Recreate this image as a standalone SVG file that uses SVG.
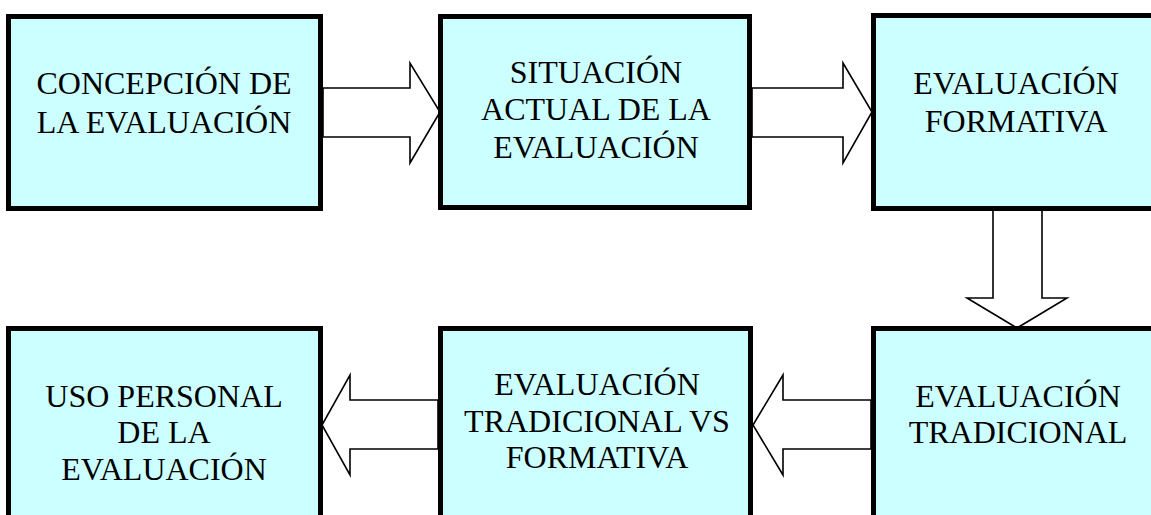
<svg xmlns="http://www.w3.org/2000/svg" width="1151" height="515" viewBox="0 0 1151 515">
<style>
.box{fill:#CCFFFF;stroke:#000;stroke-width:5}
.lbl{font-family:"Liberation Serif","Times New Roman",serif;font-size:32px;fill:#000;text-anchor:middle}
.arr{fill:#fff;stroke:#000;stroke-width:1.6;stroke-linejoin:miter}
</style>
<rect width="1151" height="515" fill="#fff"/>
<g id="connectors">
<polygon class="arr" points="323,88 410,88 410,63 440,112 410,163 410,137 323,137"/>
<polygon class="arr" points="752,88 843,88 843,63 872,112 843,163 843,137 752,137"/>
<polygon class="arr" points="993,210 993,298 967,298 1017,328 1067,298 1042,298 1042,210"/>
<polygon class="arr" points="871,400 783,400 783,375 753,425 783,475 783,449 871,449"/>
<polygon class="arr" points="438,400 350,400 350,375 322,425 350,475 350,449 438,449"/>
</g>
<g id="n1">
<rect class="box" x="8.5" y="16.5" width="312" height="192"/>
<text class="lbl" x="164" y="94">CONCEPCIÓN DE</text>
<text class="lbl" x="164" y="133">LA EVALUACIÓN</text>
</g>
<g id="n2">
<rect class="box" x="440.5" y="16.5" width="309" height="191"/>
<text class="lbl" x="596" y="83">SITUACIÓN</text>
<text class="lbl" x="596" y="120">ACTUAL DE LA</text>
<text class="lbl" x="596" y="158">EVALUACIÓN</text>
</g>
<g id="n3">
<rect class="box" x="873.5" y="15.5" width="300" height="193"/>
<text class="lbl" x="1016" y="94">EVALUACIÓN</text>
<text class="lbl" x="1016" y="132">FORMATIVA</text>
</g>
<g id="n4">
<rect class="box" x="873.5" y="328.5" width="300" height="210"/>
<text class="lbl" x="1018" y="407">EVALUACIÓN</text>
<text class="lbl" x="1018" y="443">TRADICIONAL</text>
</g>
<g id="n5">
<rect class="box" x="440.5" y="328.5" width="310" height="210"/>
<text class="lbl" x="597" y="395">EVALUACIÓN</text>
<text class="lbl" x="597" y="432">TRADICIONAL VS</text>
<text class="lbl" x="597" y="468">FORMATIVA</text>
</g>
<g id="n6">
<rect class="box" x="8.5" y="328.5" width="312" height="210"/>
<text class="lbl" x="164" y="407">USO PERSONAL</text>
<text class="lbl" x="164" y="443">DE LA</text>
<text class="lbl" x="164" y="480">EVALUACIÓN</text>
</g>
</svg>
